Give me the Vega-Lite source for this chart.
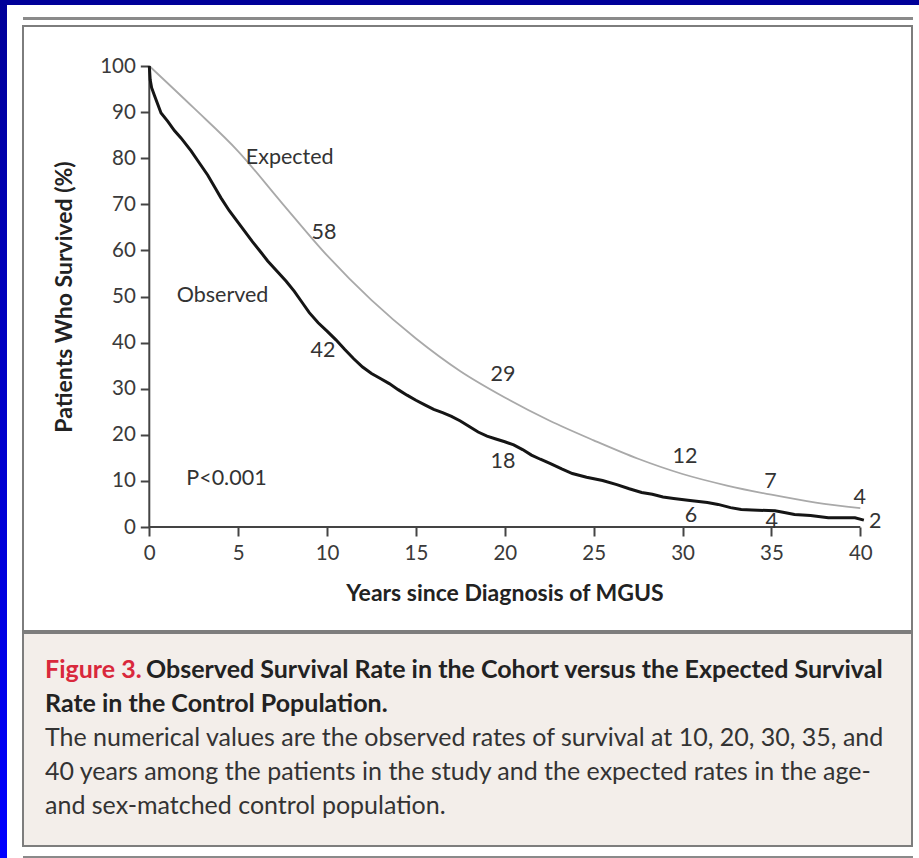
{
  "$schema": "https://vega.github.io/schema/vega-lite/v6.json",
  "padding": 0,
  "background": "white",
  "spacing": 0,
  "config": {"view": {"stroke": null}, "concat": {"spacing": 0}, "font": "Lato"},
  "datasets": {
    "observed": [
      {"year": 0, "pct": 100}, {"year": 0.05, "pct": 97}, {"year": 0.13, "pct": 95.3}, {"year": 0.3, "pct": 93.5},
      {"year": 0.66, "pct": 89.8}, {"year": 1.04, "pct": 88}, {"year": 1.41, "pct": 86}, {"year": 1.78, "pct": 84.4},
      {"year": 2.35, "pct": 81.6}, {"year": 2.72, "pct": 79.5}, {"year": 3.29, "pct": 76.3}, {"year": 3.7, "pct": 73.6},
      {"year": 4.03, "pct": 71.4}, {"year": 4.5, "pct": 68.6}, {"year": 5.16, "pct": 65.2}, {"year": 5.8, "pct": 61.9},
      {"year": 6.3, "pct": 59.5}, {"year": 6.66, "pct": 57.7}, {"year": 7.2, "pct": 55.4}, {"year": 7.7, "pct": 53.3},
      {"year": 8.16, "pct": 51.1}, {"year": 8.6, "pct": 48.7}, {"year": 9.0, "pct": 46.5}, {"year": 9.5, "pct": 44.3},
      {"year": 10, "pct": 42.5}, {"year": 10.5, "pct": 40.6}, {"year": 11, "pct": 38.5}, {"year": 11.5, "pct": 36.5},
      {"year": 12, "pct": 34.7}, {"year": 12.5, "pct": 33.3}, {"year": 13, "pct": 32.2}, {"year": 13.5, "pct": 31.1},
      {"year": 14, "pct": 29.8}, {"year": 14.5, "pct": 28.6}, {"year": 15, "pct": 27.5}, {"year": 15.5, "pct": 26.5},
      {"year": 16, "pct": 25.5}, {"year": 16.5, "pct": 24.8}, {"year": 17, "pct": 24}, {"year": 17.5, "pct": 23},
      {"year": 18, "pct": 21.8}, {"year": 18.5, "pct": 20.6}, {"year": 19, "pct": 19.7}, {"year": 19.5, "pct": 19.1},
      {"year": 20, "pct": 18.5}, {"year": 20.5, "pct": 17.8}, {"year": 21, "pct": 16.8}, {"year": 21.5, "pct": 15.6},
      {"year": 22, "pct": 14.7}, {"year": 22.6, "pct": 13.7}, {"year": 23.2, "pct": 12.6}, {"year": 23.8, "pct": 11.6},
      {"year": 24.6, "pct": 10.8}, {"year": 25.5, "pct": 10.1}, {"year": 26.3, "pct": 9.2}, {"year": 27, "pct": 8.3},
      {"year": 27.7, "pct": 7.5}, {"year": 28.3, "pct": 7.1}, {"year": 28.9, "pct": 6.5}, {"year": 29.5, "pct": 6.2},
      {"year": 30.3, "pct": 5.8}, {"year": 31.4, "pct": 5.3}, {"year": 32, "pct": 4.9}, {"year": 32.7, "pct": 4.2},
      {"year": 33.3, "pct": 3.8}, {"year": 33.9, "pct": 3.7}, {"year": 35.2, "pct": 3.5}, {"year": 35.8, "pct": 3.1},
      {"year": 36.3, "pct": 2.7}, {"year": 37.2, "pct": 2.5}, {"year": 38.2, "pct": 2.0}, {"year": 39.7, "pct": 2.0},
      {"year": 40.2, "pct": 1.5}
    ],
    "expected": [
      {"year": 0, "pct": 100}, {"year": 2.5, "pct": 90.9}, {"year": 5, "pct": 81.5}, {"year": 7.5, "pct": 70.1},
      {"year": 10, "pct": 58.9}, {"year": 12.5, "pct": 49.2}, {"year": 15, "pct": 40.9}, {"year": 17.5, "pct": 33.8},
      {"year": 20, "pct": 28.1}, {"year": 22.5, "pct": 23.1}, {"year": 25, "pct": 18.8}, {"year": 27.5, "pct": 14.8},
      {"year": 30, "pct": 11.5}, {"year": 32.5, "pct": 9.0}, {"year": 35, "pct": 7.0}, {"year": 37.5, "pct": 5.3},
      {"year": 40, "pct": 4.1}
    ],
    "labels": [
      {"year": 7.9, "pct": 80.0, "label": "Expected"},
      {"year": 9.83, "pct": 63.8, "label": "58"},
      {"year": 4.12, "pct": 50.1, "label": "Observed"},
      {"year": 9.77, "pct": 38.2, "label": "42"},
      {"year": 19.9, "pct": 33.0, "label": "29"},
      {"year": 19.9, "pct": 14.1, "label": "18"},
      {"year": 30.14, "pct": 15.1, "label": "12"},
      {"year": 30.48, "pct": 2.3, "label": "6"},
      {"year": 34.95, "pct": 9.8, "label": "7"},
      {"year": 35.02, "pct": 1.0, "label": "4"},
      {"year": 39.97, "pct": 6.3, "label": "4"},
      {"year": 40.84, "pct": 1.0, "label": "2"},
      {"year": 4.34, "pct": 10.4, "label": "P<0.001"}
    ],
    "axislines": [
      {"year": 0, "year2": 40, "pct": 0, "pct2": 0},
      {"year": 0, "year2": 0, "pct": 0, "pct2": 100}
    ],
    "caption": [
      {"line": 1, "part": "fig", "text": "Figure 3."},
      {"line": 1, "part": "head", "text": "Observed Survival Rate in the Cohort versus the Expected Survival"},
      {"line": 2, "part": "head2", "text": "Rate in the Control Population."},
      {"line": 3, "part": "body", "text": "The numerical values are the observed rates of survival at 10, 20, 30, 35, and"},
      {"line": 4, "part": "body", "text": "40 years among the patients in the study and the expected rates in the age-"},
      {"line": 5, "part": "body", "text": "and sex-matched control population."}
    ]
  },
  "vconcat": [
    {"width": 919, "height": 5, "view": {"fill": "#000099", "stroke": null}, "data": {"values": []}, "mark": "point"},
    {
      "spacing": 15,
      "hconcat": [
        {"width": 7, "height": 853,
         "view": {"fill": {"gradient": "linear", "x1": 0, "y1": 0, "x2": 0, "y2": 1, "stops": [{"offset": 0, "color": "#000099"}, {"offset": 1, "color": "#0000ff"}]}, "stroke": null},
         "data": {"values": []}, "mark": "point"},
        {
          "spacing": 0,
          "vconcat": [
            {"width": 890, "height": 12, "data": {"values": []}, "mark": "point"},
            {"width": 890, "height": 3, "view": {"fill": "#8a8a8a", "stroke": null}, "data": {"values": []}, "mark": "point"},
            {"width": 890, "height": 5, "data": {"values": []}, "mark": "point"},
            {
              "width": 889, "height": 605,
              "view": {"stroke": "#7d7d7d", "strokeWidth": 2, "fill": "white"},
              "encoding": {
                "x": {"field": "year", "type": "quantitative", "title": "Years since Diagnosis of MGUS",
                      "scale": {"domain": [-7.1055, 42.9086], "nice": false, "zero": false},
                      "axis": {"values": [0, 5, 10, 15, 20, 25, 30, 35, 40], "offset": -104, "domain": false, "grid": false,
                               "tickSize": 9, "tickWidth": 2, "tickColor": "#444", "labelFont": "Lato", "labelFontSize": 20.5,
                               "labelColor": "#3a3a3a", "labelPadding": 7, "labelFlush": false, "labelOverlap": false,
                               "titleFont": "Lato", "titleFontSize": 23, "titleFontWeight": "bold", "titleColor": "#222",
                               "titleX": 481.5, "titleY": 66, "titleBaseline": "middle", "titleAlign": "center"}},
                "y": {"field": "pct", "type": "quantitative", "title": "Patients Who Survived (%)",
                      "scale": {"domain": [-22.559, 108.677], "nice": false, "zero": false},
                      "axis": {"values": [0, 10, 20, 30, 40, 50, 60, 70, 80, 90, 100], "offset": -126.3, "domain": false, "grid": false,
                               "tickSize": 9, "tickWidth": 2, "tickColor": "#444", "labelFont": "Lato", "labelFontSize": 20.5,
                               "labelColor": "#3a3a3a", "labelPadding": 5, "labelFlush": false, "labelOverlap": false,
                               "titleFont": "Lato", "titleFontSize": 23, "titleFontWeight": "bold", "titleColor": "#222",
                               "titleX": -85.3, "titleY": 270.5, "titleAngle": -90, "titleBaseline": "middle", "titleAlign": "center"}}
              },
              "layer": [
                {"data": {"name": "axislines"}, "mark": {"type": "rule", "color": "#444", "strokeWidth": 2},
                 "encoding": {"x2": {"field": "year2"}, "y2": {"field": "pct2"}}},
                {"data": {"name": "expected"}, "mark": {"type": "line", "color": "#a9a9a9", "strokeWidth": 1.8, "interpolate": "monotone"}, "encoding": {}},
                {"data": {"name": "observed"}, "mark": {"type": "line", "color": "#151515", "strokeWidth": 3}, "encoding": {}},
                {"data": {"name": "labels"}, "mark": {"type": "text", "font": "Lato", "fontSize": 21.5, "color": "#333", "align": "center", "baseline": "middle"},
                 "encoding": {"text": {"field": "label"}}}
              ]
            },
            {
              "width": 889, "height": 213,
              "view": {"fill": "#f3eeea", "stroke": "#7d7d7d", "strokeWidth": 2},
              "data": {"name": "caption"},
              "encoding": {
                "y": {"field": "line", "type": "quantitative", "scale": {"domain": [-0.088, 6.176], "reverse": true, "nice": false, "zero": false}, "axis": null},
                "x": {"value": 22},
                "text": {"field": "text"}
              },
              "layer": [
                {"transform": [{"filter": "datum.part === 'fig'"}], "mark": {"type": "text", "align": "left", "baseline": "middle", "font": "Lato", "fontSize": 25, "fontWeight": "bold", "color": "#d9283c"}},
                {"transform": [{"filter": "datum.part === 'head'"}], "mark": {"type": "text", "align": "left", "baseline": "middle", "font": "Lato", "fontSize": 25, "fontWeight": "bold", "color": "#222", "dx": 101}},
                {"transform": [{"filter": "datum.part === 'head2'"}], "mark": {"type": "text", "align": "left", "baseline": "middle", "font": "Lato", "fontSize": 25, "fontWeight": "bold", "color": "#222"}},
                {"transform": [{"filter": "datum.part === 'body'"}], "mark": {"type": "text", "align": "left", "baseline": "middle", "font": "Lato", "fontSize": 25, "color": "#333"}}
              ]
            },
            {"width": 890, "height": 9, "data": {"values": []}, "mark": "point"},
            {"width": 890, "height": 3, "view": {"fill": "#8a8a8a", "stroke": null}, "data": {"values": []}, "mark": "point"}
          ]
        }
      ]
    }
  ]
}
